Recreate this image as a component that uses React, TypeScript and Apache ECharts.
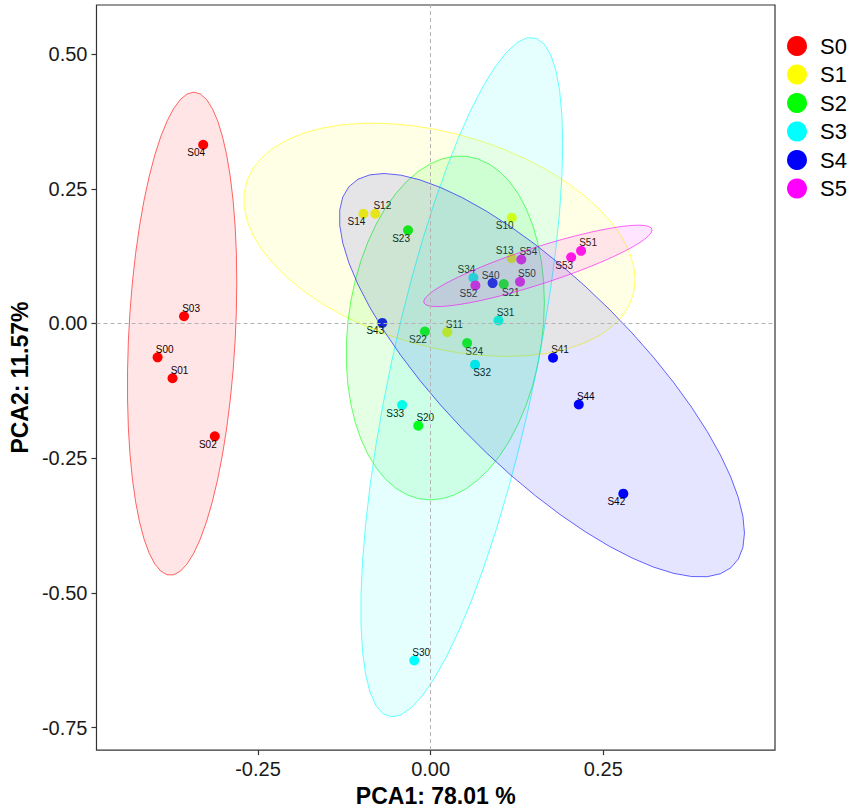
import React, { useEffect, useRef } from "react";
import * as echarts from "echarts";

// ---- data ----
const GROUPS = ["S0", "S1", "S2", "S3", "S4", "S5"];
const COLORS = ["#FF0000", "#FFFF00", "#00FF00", "#00FFFF", "#0000FF", "#FF00FF"];

const NAMES_S0 = ["S00", "S01", "S02", "S03", "S04"];
const PC1_S0 = [-0.3953, -0.3737, -0.3125, -0.357, -0.3293];
const PC2_S0 = [-0.0628, -0.1016, -0.2094, 0.0135, 0.3316];

const NAMES_S1 = ["S10", "S11", "S12", "S13", "S14"];
const PC1_S1 = [0.1174, 0.0241, -0.0801, 0.1174, -0.0973];
const PC2_S1 = [0.1963, -0.0161, 0.2037, 0.1211, 0.2037];

const NAMES_S2 = ["S20", "S21", "S22", "S23", "S24"];
const PC1_S2 = [-0.0179, 0.1059, -0.0083, -0.0327, 0.0528];
const PC2_S2 = [-0.1896, 0.0731, -0.0148, 0.1728, -0.0364];

const NAMES_S3 = ["S30", "S31", "S32", "S33", "S34"];
const PC1_S3 = [-0.0237, 0.0983, 0.0643, -0.0413, 0.0619];
const PC2_S3 = [-0.6254, 0.0055, -0.0764, -0.1514, 0.0849];

const NAMES_S4 = ["S40", "S41", "S42", "S43", "S44"];
const PC1_S4 = [0.0897, 0.1772, 0.279, -0.07, 0.2145];
const PC2_S4 = [0.075, -0.0635, -0.3157, 0.0011, -0.1503];

const NAMES_S5 = ["S50", "S51", "S52", "S53", "S54"];
const PC1_S5 = [0.1294, 0.2178, 0.0648, 0.2035, 0.1313];
const PC2_S5 = [0.0775, 0.1348, 0.0707, 0.123, 0.1187];

// label side for each sample (ggrepel placement)
const LABEL_SIDE_S0 = ["ur", "ur", "dl", "ur", "dl"];
const LABEL_SIDE_S1 = ["dl", "ur", "ur", "ul", "dl"];
const LABEL_SIDE_S2 = ["ur", "dr", "dl", "dl", "dr"];
const LABEL_SIDE_S3 = ["ur", "ur", "dr", "dl", "ul"];
const LABEL_SIDE_S4 = ["u", "ur", "dl", "dl", "ur"];
const LABEL_SIDE_S5 = ["ur", "ur", "dl", "dl", "ur"];

const X_TICKS = [-0.25, 0, 0.25];
const Y_TICKS = [-0.75, -0.5, -0.25, 0, 0.25, 0.5];
const X_TITLE = "PCA1: 78.01 %";
const Y_TITLE = "PCA2: 11.57%";
const ELLIPSE_LEVEL = 0.9;

const NAMES = [NAMES_S0, NAMES_S1, NAMES_S2, NAMES_S3, NAMES_S4, NAMES_S5];
const PC1 = [PC1_S0, PC1_S1, PC1_S2, PC1_S3, PC1_S4, PC1_S5];
const PC2 = [PC2_S0, PC2_S1, PC2_S2, PC2_S3, PC2_S4, PC2_S5];
const SIDES = [LABEL_SIDE_S0, LABEL_SIDE_S1, LABEL_SIDE_S2, LABEL_SIDE_S3, LABEL_SIDE_S4, LABEL_SIDE_S5];

const SIDE_OFFSET: Record<string, number[]> = {
  ur: [7, -8],
  ul: [-7, -8],
  dr: [7, 8],
  dl: [-7, 8],
  u: [-2, -8],
};

// ---- stat_ellipse (type "t") : MASS::cov.trob ----
function covTrob(xs: number[], ys: number[]) {
  const n = xs.length;
  const p = 2;
  const nu = 5;
  const maxit = 25;
  const tol = 0.01;
  let loc = [xs.reduce((a, b) => a + b, 0) / n, ys.reduce((a, b) => a + b, 0) / n];
  let w = new Array(n).fill(1);
  let X: number[][] = [];
  for (let iter = 0; iter < maxit; iter++) {
    const w0 = w.slice();
    X = xs.map((x, i) => [x - loc[0], ys[i] - loc[1]]);
    const sw = w.reduce((a, b) => a + b, 0);
    let a = 0, b = 0, c = 0;
    for (let i = 0; i < n; i++) {
      const f = w[i] / sw;
      a += f * X[i][0] * X[i][0];
      b += f * X[i][0] * X[i][1];
      c += f * X[i][1] * X[i][1];
    }
    const det = a * c - b * b;
    const Q = X.map(([u, v]) => (c * u * u - 2 * b * u * v + a * v * v) / det);
    w = Q.map((q) => (nu + p) / (nu + q));
    const sw2 = w.reduce((s, t) => s + t, 0);
    let lx = 0, ly = 0;
    for (let i = 0; i < n; i++) {
      lx += w[i] * xs[i];
      ly += w[i] * ys[i];
    }
    loc = [lx / sw2, ly / sw2];
    if (w.every((wi, i) => Math.abs(wi - w0[i]) < tol)) break;
  }
  let s11 = 0, s12 = 0, s22 = 0;
  for (let i = 0; i < n; i++) {
    s11 += w[i] * X[i][0] * X[i][0];
    s12 += w[i] * X[i][0] * X[i][1];
    s22 += w[i] * X[i][1] * X[i][1];
  }
  return { center: loc, cov: [s11 / n, s12 / n, s22 / n] };
}

function ellipsePoints(xs: number[], ys: number[]) {
  const { center, cov } = covTrob(xs, ys);
  const dfd = xs.length - 1;
  // qf(level, 2, dfd) closed form for dfn = 2
  const fq = (dfd / 2) * (Math.pow(1 - ELLIPSE_LEVEL, -2 / dfd) - 1);
  const radius = Math.sqrt(2 * fq);
  const r11 = Math.sqrt(cov[0]);
  const r12 = cov[1] / r11;
  const r22 = Math.sqrt(Math.max(cov[2] - r12 * r12, 0));
  const segments = 51;
  const pts: number[][] = [];
  for (let k = 0; k <= segments; k++) {
    const t = (k * 2 * Math.PI) / segments;
    const cx = Math.cos(t), sy = Math.sin(t);
    pts.push([center[0] + radius * cx * r11, center[1] + radius * (cx * r12 + sy * r22)]);
  }
  return { center, pts };
}

function hexToRgba(hex: string, a: number) {
  const r = parseInt(hex.slice(1, 3), 16);
  const g = parseInt(hex.slice(3, 5), 16);
  const b = parseInt(hex.slice(5, 7), 16);
  return `rgba(${r},${g},${b},${a})`;
}

const FONT = "Liberation Sans, Arial, Helvetica, sans-serif";

export default function App() {
  const ref = useRef<HTMLDivElement>(null);

  useEffect(() => {
    if (!ref.current) return;
    const chart = echarts.init(ref.current, undefined, { renderer: "svg" });

    const scatterSeries: any[] = GROUPS.map((g, gi) => ({
      name: g,
      type: "scatter",
      z: 2,
      symbol: "circle",
      symbolSize: 10,
      itemStyle: { color: COLORS[gi], opacity: 1 },
      data: PC1[gi].map((x, i) => ({
        name: NAMES[gi][i],
        value: [x, PC2[gi][i]],
        label: {
          show: true,
          position: "inside",
          offset: SIDE_OFFSET[SIDES[gi][i]],
          formatter: NAMES[gi][i],
          fontSize: 10,
          color: "#000",
          fontFamily: FONT,
        },
      })),
      ...(gi === 0
        ? {
            markLine: {
              silent: true,
              symbol: "none",
              label: { show: false },
              lineStyle: { color: "#b3b3b3", type: [4, 3], width: 1 },
              data: [{ xAxis: 0 }, { yAxis: 0 }],
            },
          }
        : {}),
    }));

    const ellipseSeries: any[] = GROUPS.map((g, gi) => {
      const { center, pts } = ellipsePoints(PC1[gi], PC2[gi]);
      return {
        name: g + " ellipse",
        type: "custom",
        z: 3,
        clip: true,
        silent: true,
        data: [center],
        renderItem: (_params: any, api: any) => ({
          type: "polygon",
          shape: { points: pts.map((p) => api.coord(p)) },
          style: {
            fill: hexToRgba(COLORS[gi], 0.1),
            stroke: hexToRgba(COLORS[gi], 0.6),
            lineWidth: 1,
          },
        }),
      };
    });

    const option: any = {
      animation: false,
      backgroundColor: "#ffffff",
      textStyle: { fontFamily: FONT },
      grid: {
        left: 90,
        right: 76,
        top: 5,
        bottom: 58,
        show: true,
        borderColor: "#333333",
        borderWidth: 1.2,
        backgroundColor: "transparent",
      },
      legend: {
        orient: "vertical",
        left: 782,
        top: 30,
        itemWidth: 20,
        itemHeight: 20,
        itemGap: 6.5,
        icon: "circle",
        data: GROUPS,
        textStyle: { fontSize: 22, color: "#000", fontFamily: FONT, padding: [0, 0, 0, 8] },
      },
      xAxis: {
        type: "value",
        min: -0.4838,
        max: 0.4986,
        name: X_TITLE,
        nameLocation: "middle",
        nameGap: 33,
        nameTextStyle: { fontSize: 23, fontWeight: "bold", color: "#000", fontFamily: FONT },
        axisLine: { show: false, onZero: false },
        axisTick: { show: true, length: 5, customValues: X_TICKS, lineStyle: { color: "#333", width: 1.2 } },
        axisLabel: {
          customValues: X_TICKS,
          margin: 9,
          fontSize: 20,
          color: "#1a1a1a",
          fontFamily: FONT,
          formatter: (v: number) => v.toFixed(2),
        },
        splitLine: { show: false },
      },
      yAxis: {
        type: "value",
        min: -0.7916,
        max: 0.591,
        name: Y_TITLE,
        nameLocation: "middle",
        nameGap: 63,
        nameTextStyle: { fontSize: 23, fontWeight: "bold", color: "#000", fontFamily: FONT },
        axisLine: { show: false, onZero: false },
        axisTick: { show: true, length: 5, customValues: Y_TICKS, lineStyle: { color: "#333", width: 1.2 } },
        axisLabel: {
          customValues: Y_TICKS,
          margin: 9,
          fontSize: 20,
          color: "#1a1a1a",
          fontFamily: FONT,
          formatter: (v: number) => v.toFixed(2),
        },
        splitLine: { show: false },
      },
      series: [...scatterSeries, ...ellipseSeries],
    };

    chart.setOption(option);
    return () => chart.dispose();
  }, []);

  return (
    <div
      ref={ref}
      style={{ position: "fixed", left: 0, top: 0, width: 851, height: 812, background: "#fff" }}
    />
  );
}
